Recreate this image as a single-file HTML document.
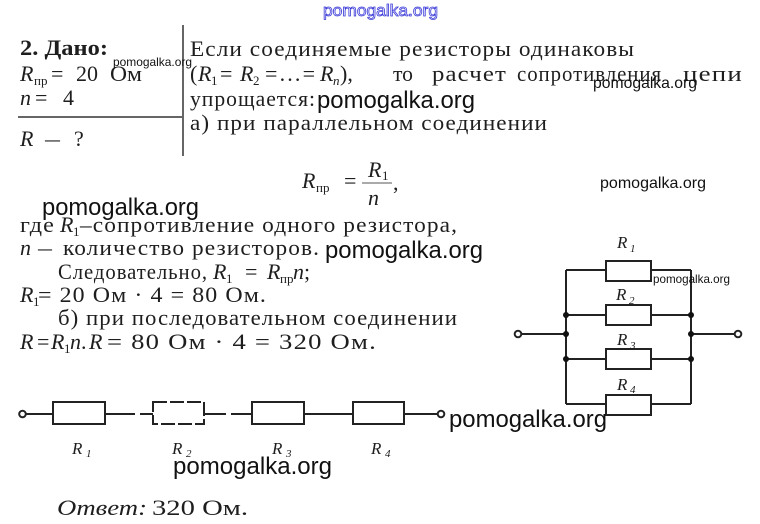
<!DOCTYPE html>
<html>
<head>
<meta charset="utf-8">
<style>
  html,body{margin:0;padding:0;background:#fff;}
  svg{display:block;}
  .s{font-family:"Liberation Serif","DejaVu Serif",serif;font-size:22px;fill:#1e1e1e;}
  .ls{letter-spacing:1px;}
  .i{font-style:italic;}
  .sub{font-family:"Liberation Serif","DejaVu Serif",serif;font-size:13px;fill:#1e1e1e;}
  .w{font-family:"Liberation Sans","DejaVu Sans",sans-serif;fill:#111;}
  .lbl{font-family:"Liberation Serif","DejaVu Serif",serif;font-style:italic;font-size:17px;fill:#1e1e1e;}
  .lsub{font-family:"Liberation Serif","DejaVu Serif",serif;font-style:italic;font-size:11px;fill:#1e1e1e;}
</style>
</head>
<body>
<svg width="760" height="524" viewBox="0 0 760 524" xmlns="http://www.w3.org/2000/svg">
<rect width="760" height="524" fill="#fff"/>

<!-- top blue watermark -->
<text x="323" y="16" font-family="Liberation Sans, DejaVu Sans, sans-serif" font-size="17" fill="none" stroke="#3a3ad8" stroke-width="0.8" textLength="115" lengthAdjust="spacingAndGlyphs">pomogalka.org</text>

<!-- Left block -->
<text class="s" x="20" y="55" font-weight="bold" textLength="88" lengthAdjust="spacingAndGlyphs">2. Дано:</text>
<text class="s i" x="20" y="81">R</text>
<text class="sub" x="34" y="85">пр</text>
<text class="s" x="51" y="81">=</text>
<text class="s" x="76" y="81">20</text>
<text class="s" x="110" y="81" textLength="32" lengthAdjust="spacingAndGlyphs">Ом</text>
<text class="s i" x="20" y="105">n</text>
<text class="s" x="35" y="105">=</text>
<text class="s" x="63" y="105">4</text>
<line x1="18" y1="117" x2="182" y2="117" stroke="#333" stroke-width="1.5"/>
<text class="s i" x="20" y="146">R</text>
<text class="s" x="45" y="146" textLength="15" lengthAdjust="spacingAndGlyphs">—</text>
<text class="s" x="74" y="146">?</text>
<line x1="183" y1="25" x2="183" y2="156" stroke="#333" stroke-width="1.5"/>

<!-- small watermark near Дано -->
<text class="w" x="113" y="66" font-size="12" textLength="79" lengthAdjust="spacingAndGlyphs">pomogalka.org</text>

<!-- Right block -->
<text class="s ls" x="190" y="56" textLength="445" lengthAdjust="spacingAndGlyphs">Если соединяемые резисторы одинаковы</text>
<text class="s" x="190" y="81">(</text>
<text class="s i" x="198" y="81">R</text>
<text class="sub" x="211" y="85">1</text>
<text class="s" x="220" y="81">=</text>
<text class="s i" x="240" y="81">R</text>
<text class="sub" x="253" y="85">2</text>
<text class="s" x="265" y="81" textLength="50" lengthAdjust="spacing">=...=</text>
<text class="s i" x="320" y="81">R</text>
<text class="sub i" x="333" y="85">n</text>
<text class="s" x="340" y="81">),</text>
<text class="s" x="393" y="81" textLength="20" lengthAdjust="spacingAndGlyphs">то</text>
<text class="s ls" x="432" y="81" textLength="75" lengthAdjust="spacingAndGlyphs">расчет</text>
<text class="s ls" x="517" y="81" textLength="145" lengthAdjust="spacingAndGlyphs">сопротивления</text>
<text class="s ls" x="683" y="81" textLength="60" lengthAdjust="spacingAndGlyphs">цепи</text>
<text class="s ls" x="190" y="106" textLength="126" lengthAdjust="spacingAndGlyphs">упрощается:</text>
<text class="s ls" x="190" y="130" textLength="358" lengthAdjust="spacingAndGlyphs">а) при параллельном соединении</text>

<text class="w" x="317" y="108" font-size="24" textLength="158" lengthAdjust="spacingAndGlyphs">pomogalka.org</text>
<text class="w" x="593" y="88" font-size="16" textLength="104" lengthAdjust="spacingAndGlyphs">pomogalka.org</text>

<!-- Formula -->
<text class="s i" x="302" y="188">R</text>
<text class="sub" x="316" y="192" font-size="11">пр</text>
<text class="s" x="344" y="188">=</text>
<text class="s i" x="368" y="177">R</text>
<text class="sub" x="382" y="180">1</text>
<line x1="362" y1="183" x2="392" y2="183" stroke="#555" stroke-width="1"/>
<text class="s" x="393" y="190">,</text>
<text class="s i" x="368" y="205">n</text>

<text class="w" x="600" y="188" font-size="16" textLength="106" lengthAdjust="spacingAndGlyphs">pomogalka.org</text>
<text class="w" x="42" y="215" font-size="24" textLength="157" lengthAdjust="spacingAndGlyphs">pomogalka.org</text>

<!-- Middle text -->
<text class="s ls" x="20" y="232" textLength="35" lengthAdjust="spacingAndGlyphs">где</text>
<text class="s i" x="60" y="232">R</text>
<text class="sub" x="73" y="236">1</text>
<text class="s ls" x="80" y="232" textLength="378" lengthAdjust="spacingAndGlyphs">–сопротивление одного резистора,</text>

<text class="s i" x="20" y="255">n</text>
<text class="s" x="38" y="255" textLength="14" lengthAdjust="spacingAndGlyphs">—</text>
<text class="s ls" x="63" y="255" textLength="257" lengthAdjust="spacingAndGlyphs">количество резисторов.</text>
<text class="w" x="325" y="258" font-size="24" textLength="158" lengthAdjust="spacingAndGlyphs">pomogalka.org</text>

<text class="s ls" x="58" y="279" textLength="150" lengthAdjust="spacingAndGlyphs">Следовательно,</text>
<text class="s i" x="213" y="279">R</text>
<text class="sub" x="226" y="283">1</text>
<text class="s" x="245" y="279">=</text>
<text class="s i" x="267" y="279">R</text>
<text class="sub" x="280" y="283" font-size="10">пр</text>
<text class="s i" x="293" y="279">n</text>
<text class="s" x="304" y="279">;</text>

<text class="s i" x="20" y="302">R</text>
<text class="sub" x="33" y="306">1</text>
<text class="s ls" x="38" y="302" textLength="229" lengthAdjust="spacingAndGlyphs">= 20 Ом · 4 = 80 Ом.</text>

<text class="s ls" x="58" y="325" textLength="400" lengthAdjust="spacingAndGlyphs">б) при последовательном соединении</text>

<text class="s i" x="20" y="349">R</text>
<text class="s" x="37" y="349">=</text>
<text class="s i" x="51" y="349">R</text>
<text class="sub" x="64" y="353">1</text>
<text class="s i" x="70" y="349">n</text>
<text class="s" x="81" y="349">.</text>
<text class="s i" x="89" y="349">R</text>
<text class="s ls" x="107" y="349" textLength="270" lengthAdjust="spacingAndGlyphs">= 80 Ом · 4 = 320 Ом.</text>

<!-- Parallel circuit -->
<g stroke="#222" stroke-width="2" fill="none">
  <path d="M521 334 H566 M566 270 V404 M691 270 V404 M691 334 H735"/>
  <path d="M566 270 H606 M651 270 H691"/>
  <rect x="606" y="261" width="45" height="20"/>
  <path d="M566 315 H606 M651 315 H691"/>
  <rect x="606" y="305" width="45" height="20"/>
  <path d="M566 359 H606 M651 359 H691"/>
  <rect x="606" y="349" width="45" height="20"/>
  <path d="M566 404 H606 M651 404 H691"/>
  <rect x="606" y="395" width="45" height="20"/>
  <circle cx="518" cy="334" r="3.3" fill="#fff"/>
  <circle cx="738" cy="334" r="3.3" fill="#fff"/>
</g>
<g fill="#111">
  <circle cx="566" cy="315" r="3"/>
  <circle cx="566" cy="334" r="3"/>
  <circle cx="566" cy="359" r="3"/>
  <circle cx="691" cy="315" r="3"/>
  <circle cx="691" cy="334" r="3"/>
  <circle cx="691" cy="359" r="3"/>
</g>
<text class="lbl" x="617" y="248">R</text><text class="lsub" x="630" y="252">1</text>
<text class="lbl" x="616" y="300">R</text><text class="lsub" x="629" y="304">2</text>
<text class="lbl" x="617" y="345">R</text><text class="lsub" x="630" y="349">3</text>
<text class="lbl" x="617" y="390">R</text><text class="lsub" x="630" y="393">4</text>
<text class="w" x="653" y="283" font-size="12" textLength="77" lengthAdjust="spacingAndGlyphs">pomogalka.org</text>

<!-- Series circuit -->
<g stroke="#222" stroke-width="2" fill="none">
  <circle cx="22.5" cy="414" r="3.3" fill="#fff"/>
  <path d="M26 414 H53"/>
  <rect x="53" y="402" width="52" height="22"/>
  <path d="M105 414 H135 M140 414 H153"/>
  <rect x="153" y="402" width="51" height="22" stroke-dasharray="14 3"/>
  <path d="M204 414 H226 M231 414 H252"/>
  <rect x="252" y="402" width="52" height="22"/>
  <path d="M304 414 H353"/>
  <rect x="353" y="402" width="51" height="22"/>
  <path d="M404 414 H437"/>
  <circle cx="441" cy="414" r="3.3" fill="#fff"/>
</g>
<text class="lbl" x="72" y="454">R</text><text class="lsub" x="86" y="457">1</text>
<text class="lbl" x="172" y="454">R</text><text class="lsub" x="186" y="457">2</text>
<text class="lbl" x="272" y="454">R</text><text class="lsub" x="286" y="457">3</text>
<text class="lbl" x="371" y="454">R</text><text class="lsub" x="385" y="457">4</text>

<text class="w" x="449" y="427" font-size="24" textLength="158" lengthAdjust="spacingAndGlyphs">pomogalka.org</text>
<text class="w" x="173" y="474" font-size="24" textLength="159" lengthAdjust="spacingAndGlyphs">pomogalka.org</text>

<!-- Answer -->
<text class="s i" x="57" y="515" textLength="90" lengthAdjust="spacingAndGlyphs">Ответ:</text>
<text class="s" x="152" y="515" textLength="96" lengthAdjust="spacingAndGlyphs">320 Ом.</text>
</svg>
</body>
</html>
